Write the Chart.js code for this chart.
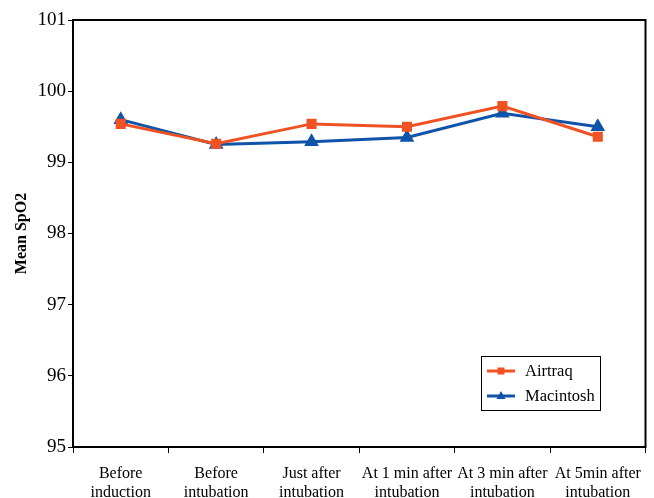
<!DOCTYPE html>
<html>
<head>
<meta charset="utf-8">
<script src="https://cdn.jsdelivr.net/npm/chart.js@4.4.1/dist/chart.umd.min.js"></script>
<style>
    html, body { margin: 0; padding: 0; background: #fff; }
    #wrap { width: 654px; height: 498px; position: relative; }
</style>
</head>
<body>
<div id="wrap"><canvas id="spo2Chart"></canvas></div>
<script>
const timePoints = [
    ['Before', 'induction'],
    ['Before', 'intubation'],
    ['Just after', 'intubation'],
    ['At 1 min after', 'intubation'],
    ['At 3 min after', 'intubation'],
    ['At 5min after', 'intubation']
];
const airtraqValues = [99.54, 99.26, 99.54, 99.50, 99.79, 99.36];
const macintoshValues = [99.60, 99.25, 99.29, 99.35, 99.69, 99.50];
const yTicks = [95, 96, 97, 98, 99, 100, 101];

const ORANGE = '#f05323';
const BLUE = '#0f54a8';
const FONT = "'Liberation Serif', 'DejaVu Serif', serif";

// frame around the plot + legend box inside it
const framePlugin = {
    id: 'frame',
    afterDraw(chart) {
        const { ctx, chartArea: a } = chart;
        ctx.save();
        ctx.strokeStyle = '#000';
        ctx.lineWidth = 2;
        ctx.strokeRect(a.left, a.top, a.right - a.left, a.bottom - a.top);

        // legend
        const lx = 481, ly = 356, lw = 119, lh = 54;
        ctx.lineWidth = 1;
        ctx.strokeRect(lx + 0.5, ly + 0.5, lw, lh);
        const rows = [
            { label: 'Airtraq', color: ORANGE, style: 'rect', y: ly + 15 },
            { label: 'Macintosh', color: BLUE, style: 'triangle', y: ly + 40 }
        ];
        rows.forEach(r => {
            ctx.strokeStyle = r.color;
            ctx.lineWidth = 3;
            ctx.beginPath();
            ctx.moveTo(lx + 6, r.y);
            ctx.lineTo(lx + 34, r.y);
            ctx.stroke();
            ctx.fillStyle = r.color;
            const cx = lx + 20;
            if (r.style === 'rect') {
                ctx.fillRect(cx - 3.5, r.y - 3.5, 7, 7);
            } else {
                ctx.beginPath();
                ctx.moveTo(cx, r.y - 5);
                ctx.lineTo(cx + 4.5, r.y + 3);
                ctx.lineTo(cx - 4.5, r.y + 3);
                ctx.closePath();
                ctx.fill();
            }
            ctx.fillStyle = '#000';
            ctx.font = '16.5px ' + FONT;
            ctx.textBaseline = 'middle';
            ctx.fillText(r.label, lx + 44, r.y + 1);
        });
        ctx.restore();
    }
};

new Chart(document.getElementById('spo2Chart'), {
    type: 'line',
    data: {
        labels: timePoints,
        datasets: [
            {
                label: 'Airtraq',
                data: airtraqValues,
                borderColor: ORANGE,
                backgroundColor: ORANGE,
                borderWidth: 3,
                pointStyle: 'rect',
                pointRadius: 5,
                tension: 0
            },
            {
                label: 'Macintosh',
                data: macintoshValues,
                borderColor: BLUE,
                backgroundColor: BLUE,
                borderWidth: 3,
                pointStyle: 'triangle',
                pointRadius: 5.5,
                tension: 0
            }
        ]
    },
    options: {
        responsive: true,
        maintainAspectRatio: false,
        animation: false,
        layout: { padding: { top: 20, right: 6, bottom: 0, left: 0 } },
        plugins: {
            legend: { display: false },
            tooltip: { enabled: false }
        },
        scales: {
            x: {
                offset: true,
                grid: {
                    offset: true,
                    drawOnChartArea: false,
                    drawTicks: true,
                    tickLength: 6,
                    color: '#000',
                    lineWidth: 1
                },
                border: { display: false },
                ticks: {
                    color: '#000',
                    maxRotation: 0,
                    autoSkip: false,
                    padding: 11,
                    font: { family: FONT, size: 16, lineHeight: 1.2 }
                },
                afterFit(scale) { scale.height = 51; }
            },
            y: {
                min: 95,
                max: 101,
                afterBuildTicks(scale) { scale.ticks = yTicks.map(v => ({ value: v })); },
                grid: {
                    drawOnChartArea: false,
                    drawTicks: true,
                    tickLength: 5,
                    color: '#000'
                },
                border: { display: false },
                ticks: {
                    color: '#000',
                    padding: 2,
                    font: { family: FONT, size: 19 }
                },
                title: {
                    display: true,
                    text: 'Mean SpO2',
                    color: '#000',
                    padding: { top: 12, bottom: 0 },
                    font: { family: FONT, size: 16, weight: 'bold' }
                },
                afterFit(scale) { scale.width = 73; }
            }
        }
    },
    plugins: [framePlugin]
});
</script>
</body>
</html>
